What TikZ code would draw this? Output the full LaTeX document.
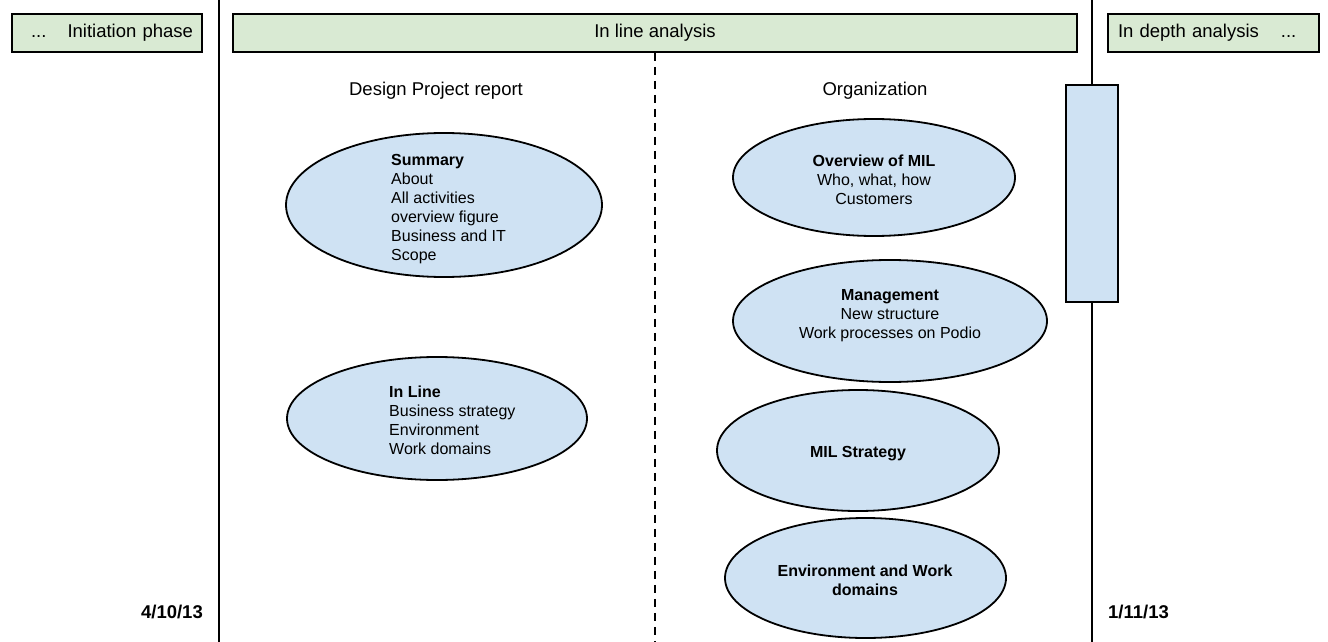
\documentclass[tikz,border=0pt]{standalone}
\usepackage{fontspec}
\setmainfont{Liberation Sans}
\usetikzlibrary{shapes.geometric}
\definecolor{phasegreen}{HTML}{D9EAD3}
\definecolor{ovalblue}{HTML}{CFE2F3}
\begin{document}
\begin{tikzpicture}[x=1pt,y=-1pt,
  phase/.style={draw=black, line width=1.6pt, fill=phasegreen, minimum height=38pt, inner sep=0pt, font=\fontsize{18.5}{22}\selectfont},
  oval/.style={ellipse, draw=black, line width=1.8pt, fill=ovalblue, inner sep=0pt},
  body/.style={inner sep=0pt, font=\fontsize{16}{19}\selectfont},
  head/.style={inner sep=0pt, font=\fontsize{18.5}{22}\selectfont},
  datelbl/.style={inner sep=0pt, font=\fontsize{18.5}{22}\selectfont\bfseries},
  sepline/.style={line width=1.6pt}]
\useasboundingbox[fill=white] (0,0) rectangle (1328,642);

% phase boxes
\node[phase, minimum width=190pt, text width=172pt, align=right, inner xsep=9pt] (init) at (107,33) {...\hspace{21pt}Initiation phase};
\node[phase, minimum width=844pt] (inline) at (655,33) {In line analysis};
\node[phase, minimum width=211pt, text width=191pt, align=left, inner xsep=10pt] (depth) at (1213.5,33) {In depth analysis\hspace{22pt}...};

% separators
\coordinate (l1top) at (219,0);
\coordinate (l1bot) at (219,642);
\draw[sepline] (l1top) -- (l1bot);
\node[draw=black, line width=1.6pt, fill=ovalblue, minimum width=52pt, minimum height=217pt, inner sep=0pt] (bar) at (1092,193.5) {};
\coordinate (r1top) at (1092,0);
\coordinate (r1bot) at (1092,642);
\draw[sepline] (r1top) -- (bar.north);
\draw[sepline] (bar.south) -- (r1bot);
\coordinate (dbot) at (655,642);
\draw[sepline, dash pattern=on 8pt off 6pt] (inline.south) -- (dbot);

% headers
\node[head] (dprhead) at (436,91) {Design Project report};
\node[head] (orghead) at (875,91) {Organization};

% left column
\node[oval, minimum width=316pt, minimum height=144pt] (summary) at (444,205) {};
\node[body, anchor=west, align=left] (summarytxt) at (391,209) {\textbf{Summary}\\About\\All activities\\overview figure\\Business and IT\\Scope};
\node[oval, minimum width=300pt, minimum height=123pt] (inlineov) at (437,418.5) {};
\node[body, anchor=west, align=left] (inlinetxt) at (389,420) {\textbf{In Line}\\Business strategy\\Environment\\Work domains};

% right column
\node[oval, minimum width=282pt, minimum height=117pt] (overview) at (874,177.5) {};
\node[body, align=center] (overviewtxt) at (874,179.5) {\textbf{Overview of MIL}\\Who, what, how\\Customers};
\node[oval, minimum width=314pt, minimum height=122pt] (mgmt) at (890,321) {};
\node[body, align=center] (mgmttxt) at (890,315.5) {\textbf{Management}\\New structure\\Work processes on Podio};
\node[oval, minimum width=282pt, minimum height=121pt] (strategy) at (858,450.5) {};
\node[body, align=center, font=\fontsize{16}{19}\selectfont\bfseries] (strategytxt) at (858,454) {MIL Strategy};
\node[oval, minimum width=281pt, minimum height=120pt] (envov) at (865.5,578) {};
\node[body, align=center, font=\fontsize{16}{19}\selectfont\bfseries] (envtxt) at (865,580) {Environment and Work\\domains};

% dates
\node[datelbl, anchor=east] (startdate) at (203,612) {4/10/13};
\node[datelbl, anchor=west] (enddate) at (1108,612) {1/11/13};
\end{tikzpicture}
\end{document}
